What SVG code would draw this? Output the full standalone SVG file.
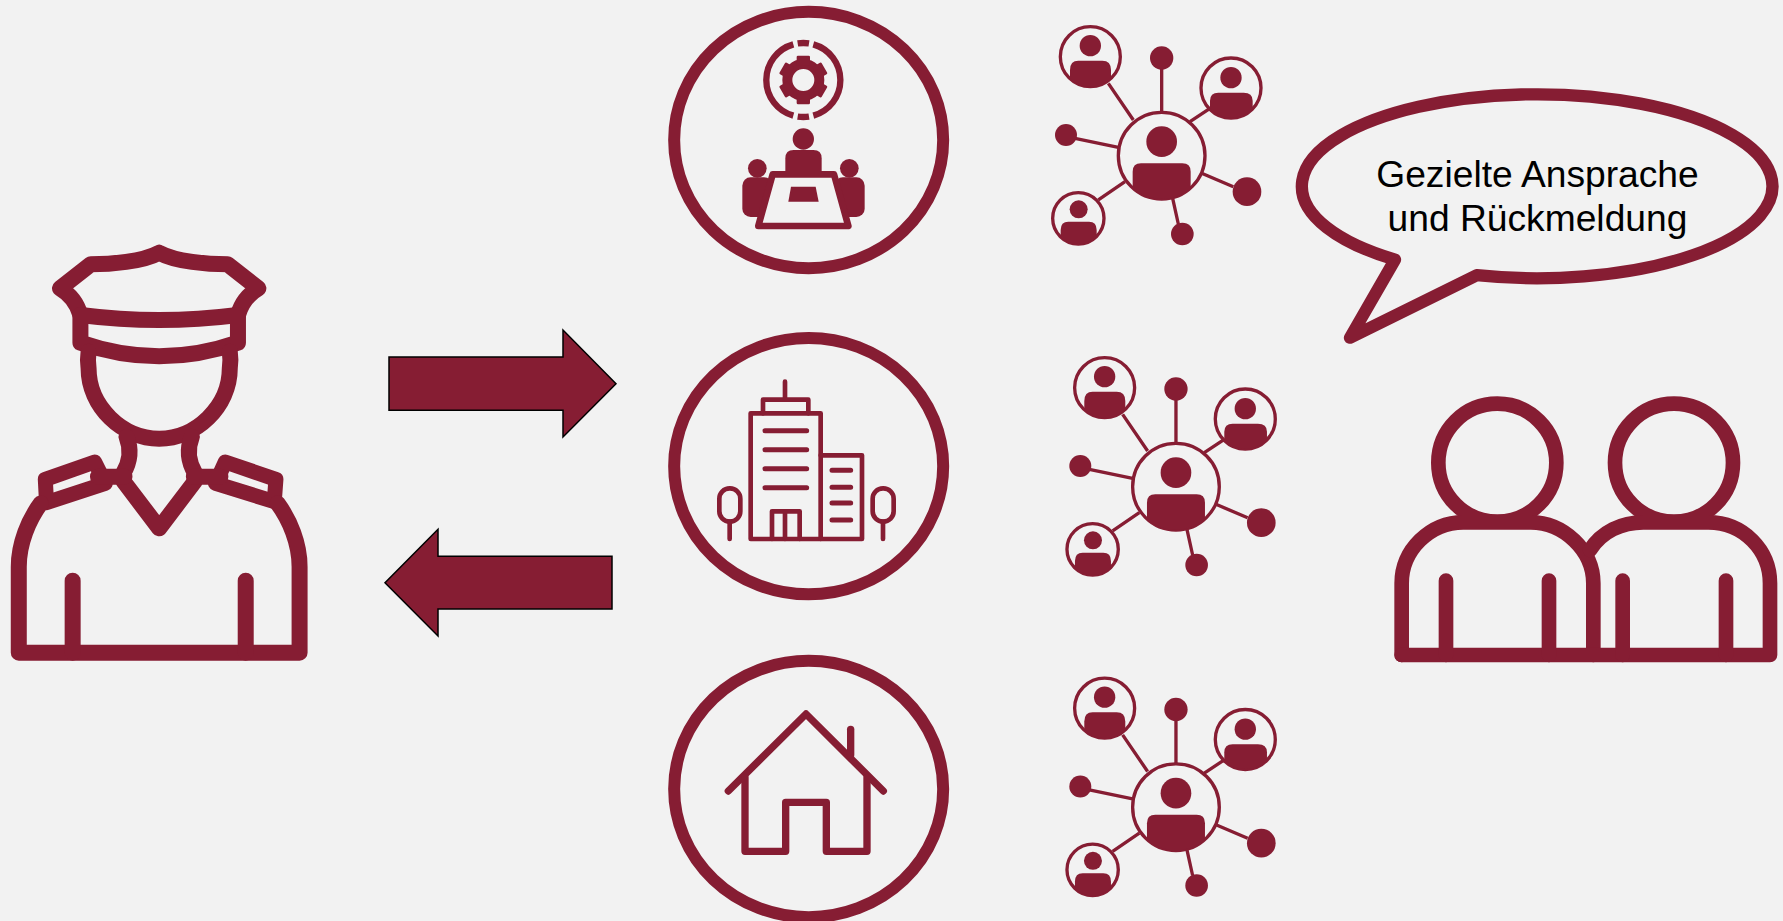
<svg xmlns="http://www.w3.org/2000/svg" xmlns:xlink="http://www.w3.org/1999/xlink" width="1783" height="921" viewBox="0 0 1783 921">
<style>
.s{fill:none;stroke:#861D33;stroke-linecap:round;stroke-linejoin:round}
.n{fill:none;stroke:#861D33;stroke-linecap:round;stroke-linejoin:round;stroke-width:16px;vector-effect:non-scaling-stroke}
.f{fill:#861D33}
.ring{fill:none;stroke:#861D33;stroke-width:12.300}
.arrow{fill:#861D33;stroke:#000;stroke-width:1.5}
.t{font-family:"Liberation Sans",Arial,sans-serif;font-size:37.200px;fill:#000;text-anchor:middle}
</style>
<defs>
<g id="net">
<g class="s" stroke-width="10">
<path d="M235 220L310 330M395 175V305M480 335L540 295M135 385L265 412M205 570L285 515M515 490L610 530M428 565L445 642" style="stroke-linecap:butt"/>
<circle cx="395" cy="437" r="130"/>
<circle cx="181" cy="140" r="90"/>
<circle cx="603" cy="234" r="90"/>
<circle cx="145" cy="625" r="77"/>
</g>
<g class="f">
<circle cx="395" cy="395" r="46"/>
<path d="M308 533V485Q308 460 333 460H457Q482 460 482 485V533A130 130 0 0 1 308 533Z"/>
<circle cx="181" cy="107" r="32"/>
<path d="M120 206V180Q120 152 145 152H217Q243 152 243 180V206A90 90 0 0 1 120 206Z"/>
<circle cx="603" cy="203" r="32"/>
<path d="M540 296V272Q540 248 565 248H641Q668 248 668 272V296A90 90 0 0 1 540 296Z"/>
<circle cx="146" cy="598" r="27"/>
<path d="M92 680V660Q92 635 115 635H177Q200 635 200 660V680A77 77 0 0 1 92 680Z"/>
<circle cx="395" cy="144" r="35"/>
<circle cx="108" cy="375" r="33"/>
<circle cx="651" cy="545" r="43"/>
<circle cx="457" cy="672" r="34"/>
</g>
</g>
</defs>
<rect width="1783" height="921" fill="#F2F2F2"/>

<g id="connectors">
<path class="arrow" d="M389 357H563V330L616 383.700L563 437V410.300H389Z"/>
<path class="arrow" d="M612 556.300H438V529.300L385 582.700L438 636V609H612Z"/>
</g>

<g id="officer" transform="translate(0,220) scale(0.40816,0.33333)">
<path class="n" d="M390 98C350 125 270 133 222 133L147 205C175 225 190 255 197 285M390 98C430 125 510 133 558 133L633 205C605 225 590 255 583 285"/>
<path class="n" d="M197 285Q390 315 583 285M197 285V368Q390 450 583 368V285"/>
<path class="n" d="M217 395Q214 420 217 445C217 560 300 656 390 656C480 656 563 560 563 445Q566 420 563 395"/>
<path class="n" d="M310 650Q328 705 302 760M470 650Q452 705 478 760"/>
<path class="n" d="M302 783L390 925L478 783"/>
<path class="n" style="stroke-width:15px" d="M232 726L111 778L114 848L258 790Z"/>
<path class="n" style="stroke-width:15px" d="M552 726L676 778L672 845L528 790Z"/>
<path class="n" d="M240 770H305M475 770H540"/>
<path class="n" d="M100 850C70 900 46 970 46 1040V1298H734V1040C734 970 710 900 680 850"/>
<path class="n" d="M178 1082V1298M602 1082V1298"/>
</g>

<g id="node-meeting" transform="translate(660,0) scale(0.33333)">
<ellipse class="ring" style="stroke-width:36" cx="446" cy="420" rx="403.500" ry="384.500"/>
<g class="s" stroke-width="19" style="stroke-linecap:butt">
<path d="M413 130.300A111 111 0 0 1 447 130.300M460 133.100A111 111 0 0 1 460 346.900M447 349.700A111 111 0 0 1 413 349.700M400 346.900A111 111 0 0 1 400 133.100"/>
</g>
<circle cx="430" cy="240" r="48" fill="none" stroke="#861D33" stroke-width="30"/>
<g class="f">
<rect x="410" y="167" width="40" height="30" rx="4"/>
<rect x="410" y="167" width="40" height="30" rx="4" transform="rotate(60 430 240)"/>
<rect x="410" y="167" width="40" height="30" rx="4" transform="rotate(120 430 240)"/>
<rect x="410" y="167" width="40" height="30" rx="4" transform="rotate(180 430 240)"/>
<rect x="410" y="167" width="40" height="30" rx="4" transform="rotate(240 430 240)"/>
<rect x="410" y="167" width="40" height="30" rx="4" transform="rotate(300 430 240)"/>
<circle cx="430" cy="417" r="32"/>
<path d="M376 525V475Q376 450 401 450H460Q485 450 485 475V525Z"/>
<circle cx="292" cy="505" r="28"/>
<circle cx="568" cy="505" r="28"/>
<rect x="247" y="532" width="90" height="119" rx="25"/>
<rect x="524" y="532" width="90" height="119" rx="25"/>
</g>
<path d="M338 523H522L565 678H295Z" fill="#F2F2F2" stroke="#861D33" stroke-width="20" stroke-linejoin="round"/>
<path class="f" d="M393 560H467L476 605H385Z"/>
</g>

<g id="node-building" transform="translate(660,320) scale(0.33333)">
<ellipse class="ring" style="stroke-width:36" cx="446" cy="438.500" rx="403.500" ry="384.500"/>
<g class="s" stroke-width="14">
<rect x="272" y="280" width="210" height="377"/>
<path d="M309 280V239H445V280M375 239V185"/>
<path d="M482 406H606V657H482"/>
<path d="M336 657V574H419V657M375 574V657"/>
<rect x="178" y="505" width="63" height="100" rx="31"/>
<rect x="638" y="505" width="63" height="100" rx="31"/>
<path d="M209 605V657M669 605V657"/>
<path stroke-width="15" d="M315 332H440M315 389H440M315 446H440M315 503H440M516 451H572M516 502H572M516 549H572M516 600H572"/>
</g>
</g>

<g id="node-house" transform="translate(660,640) scale(0.33333)">
<ellipse class="ring" style="stroke-width:36" cx="446" cy="447" rx="403.500" ry="384.500"/>
<g class="s" stroke-width="22">
<path d="M205 453L438 222L670 453"/>
<path d="M572 268V345"/>
<path d="M255 412V634H377V487H499V634H621V412"/>
</g>
</g>

<use id="network-1" xlink:href="#net" href="#net" transform="translate(1030,10) scale(0.33333)"/>
<use id="network-2" xlink:href="#net" href="#net" transform="translate(1044.300,341) scale(0.33333)"/>
<use id="network-3" xlink:href="#net" href="#net" transform="translate(1044.300,661.500) scale(0.33333)"/>

<g id="speech-bubble">
<path class="s" stroke-width="12.300" d="M1395 259.600A235.300 92 0 1 1 1476.700 275.200L1350 337.700Z"/>
<text class="t" x="1537.500" y="186.700">Gezielte Ansprache</text>
<text class="t" x="1537.500" y="230.700">und Rückmeldung</text>
</g>

<g id="citizens" transform="translate(1380,380) scale(0.33333)">
<g class="s" stroke-width="44">
<circle cx="352" cy="248" r="177"/>
<circle cx="882" cy="248" r="177"/>
<path d="M65 825V610C65 510 150 427 250 427H452C550 427 640 510 640 610V825"/>
<path d="M630 510C665 455 725 427 790 427H985C1090 427 1170 510 1170 610V825H65"/>
<path d="M198 602V825M507 602V825M728 602V825M1038 602V825"/>
</g>
</g>
</svg>
